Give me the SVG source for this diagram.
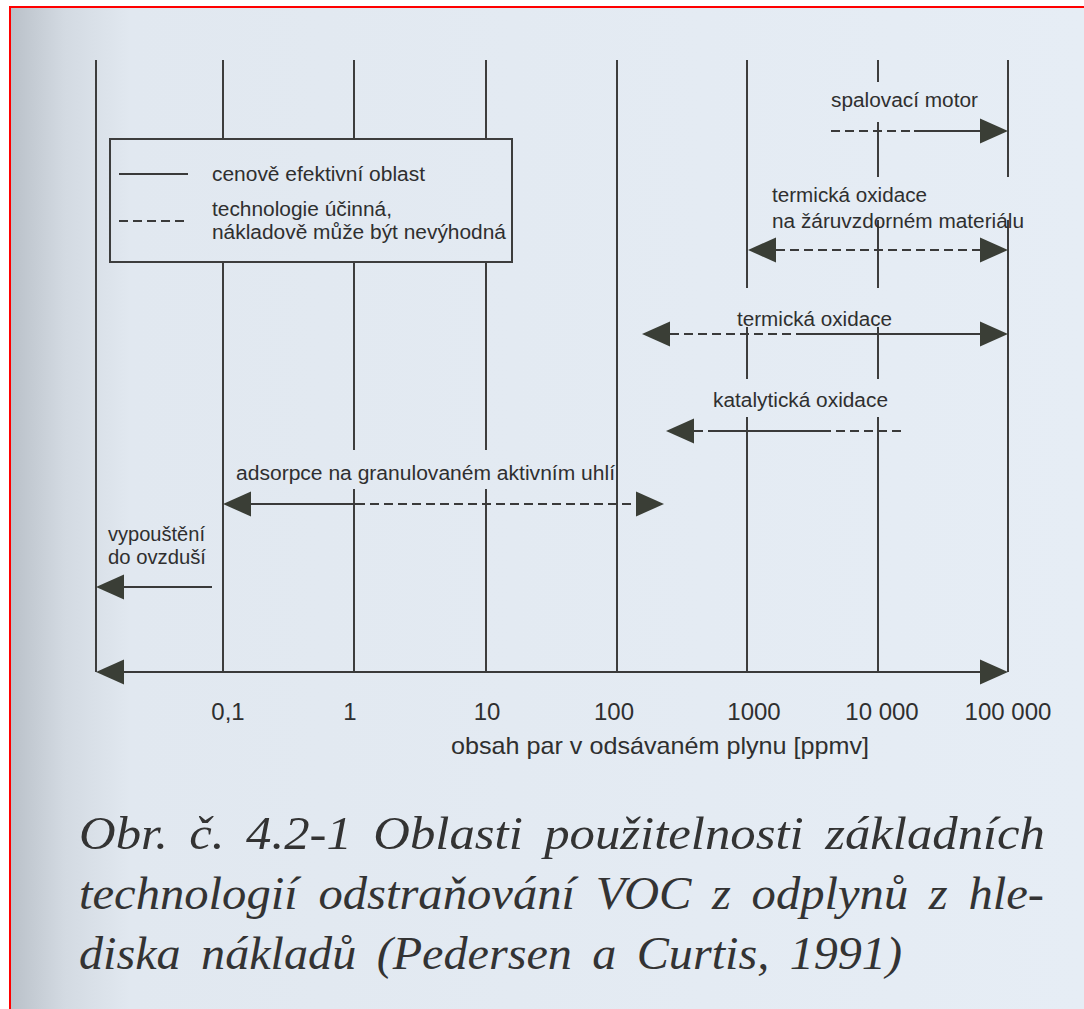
<svg xmlns="http://www.w3.org/2000/svg" width="1084" height="1009" viewBox="0 0 1084 1009">
<defs>
<linearGradient id="bg" x1="0" y1="0" x2="1084" y2="0" gradientUnits="userSpaceOnUse">
<stop offset="0.01" stop-color="#bac1c9"/>
<stop offset="0.06" stop-color="#d3dae2"/>
<stop offset="0.12" stop-color="#e1e8f0"/>
<stop offset="1" stop-color="#e6edf5"/>
</linearGradient>
<marker id="ah" markerUnits="userSpaceOnUse" markerWidth="30" markerHeight="28" viewBox="0 -14 30 28" refX="0" refY="0" orient="auto-start-reverse" overflow="visible">
<path d="M0,-12.5 L28,0 L0,12.5 Z" fill="#3a3e36"/>
</marker>
<style>
.grid{stroke:#3d3d3d;stroke-width:2;fill:none}
.arr{stroke:#3a3a3a;stroke-width:2;fill:none}
.dash{stroke-dasharray:9 5}
.lbl{font-family:"Liberation Sans",Arial,sans-serif;font-size:20px;fill:#2f2f2f}
.tick{font-family:"Liberation Sans",Arial,sans-serif;font-size:24px;fill:#2f2f2f;text-anchor:middle}
.axt{font-family:"Liberation Sans",Arial,sans-serif;font-size:24px;fill:#2f2f2f}
.cap{font-family:"Liberation Serif","Times New Roman",serif;font-style:italic;font-size:46px;fill:#333;word-spacing:8px}
</style>
</defs>
<rect width="1084" height="1009" fill="#fff"/>
<rect x="10" y="7" width="1074" height="1002" fill="url(#bg)"/>
<path d="M10,1009 V7 H1084" stroke="#f00" stroke-width="2" fill="none"/>

<g id="grid" class="grid">
<path d="M96,60V672"/>
<path d="M223,60V139 M223,262V672"/>
<path d="M354,60V139 M354,262V450 M354,489V672"/>
<path d="M486,60V139 M486,262V450 M486,489V672"/>
<path d="M617,60V672"/>
<path d="M747,60V288 M747,327V379 M747,417V672"/>
<path d="M878,60V82 M878,122V177 M878,220V288 M878,327V379 M878,417V672"/>
<path d="M1008,60V177 M1008,220V672"/>
</g>

<g id="legend">
<rect x="110" y="139" width="402" height="123" class="grid"/>
<path d="M119,174H188" class="arr"/>
<path d="M119,221H188" class="arr dash"/>
<text class="lbl" x="212" y="181" textLength="213" lengthAdjust="spacingAndGlyphs">cenově efektivní oblast</text>
<text class="lbl" x="212" y="216" textLength="180" lengthAdjust="spacingAndGlyphs">technologie účinná,</text>
<text class="lbl" x="212" y="239" textLength="294" lengthAdjust="spacingAndGlyphs">nákladově může být nevýhodná</text>
</g>

<g id="connectors">
<path d="M831,131H914" class="arr dash"/>
<path d="M914,131H980" class="arr" marker-end="url(#ah)"/>
<path d="M776,250H980" class="arr dash" marker-start="url(#ah)" marker-end="url(#ah)"/>
<path d="M670,334H803" class="arr dash" marker-start="url(#ah)"/>
<path d="M803,334H980" class="arr" marker-end="url(#ah)"/>
<path d="M694,431H711" class="arr dash" marker-start="url(#ah)"/>
<path d="M711,431H822" class="arr"/>
<path d="M822,431H903" class="arr dash"/>
<path d="M251,504H356" class="arr" marker-start="url(#ah)"/>
<path d="M356,504H636" class="arr dash" marker-end="url(#ah)"/>
<path d="M124,587H212" class="arr" marker-start="url(#ah)"/>
<path d="M124,672H980" class="arr" marker-start="url(#ah)" marker-end="url(#ah)"/>
</g>

<g id="spalovaci-motor"><text class="lbl" x="831" y="107" textLength="147" lengthAdjust="spacingAndGlyphs">spalovací motor</text></g>
<g id="termicka-oxidace-zaruvzdorny">
<text class="lbl" x="772" y="202" textLength="155" lengthAdjust="spacingAndGlyphs">termická oxidace</text>
<text class="lbl" x="772" y="228" textLength="252" lengthAdjust="spacingAndGlyphs">na žáruvzdorném materiálu</text>
</g>
<g id="termicka-oxidace"><text class="lbl" x="737" y="326" textLength="155" lengthAdjust="spacingAndGlyphs">termická oxidace</text></g>
<g id="katalyticka-oxidace"><text class="lbl" x="713" y="407" textLength="175" lengthAdjust="spacingAndGlyphs">katalytická oxidace</text></g>
<g id="adsorpce"><text class="lbl" x="236" y="480" textLength="379" lengthAdjust="spacingAndGlyphs">adsorpce na granulovaném aktivním uhlí</text></g>
<g id="vypousteni">
<text class="lbl" x="108" y="541" textLength="97" lengthAdjust="spacingAndGlyphs">vypouštění</text>
<text class="lbl" x="108" y="564" textLength="98" lengthAdjust="spacingAndGlyphs">do ovzduší</text>
</g>

<g id="axis-labels">
<text class="tick" x="228" y="720">0,1</text>
<text class="tick" x="350" y="720">1</text>
<text class="tick" x="487" y="720">10</text>
<text class="tick" x="614" y="720">100</text>
<text class="tick" x="754" y="720">1000</text>
<text class="tick" x="882" y="720">10 000</text>
<text class="tick" x="1008" y="720">100 000</text>
<text class="axt" x="451" y="754" textLength="418" lengthAdjust="spacingAndGlyphs">obsah par v odsávaném plynu [ppmv]</text>
</g>

<g id="caption">
<text class="cap" x="79" y="849" textLength="966" lengthAdjust="spacingAndGlyphs">Obr. č. 4.2-1 Oblasti použitelnosti základních</text>
<text class="cap" x="79" y="909" textLength="965" lengthAdjust="spacingAndGlyphs">technologií odstraňování VOC z odplynů z hle-</text>
<text class="cap" x="79" y="969" textLength="823" lengthAdjust="spacingAndGlyphs">diska nákladů (Pedersen a Curtis, 1991)</text>
</g>
</svg>
